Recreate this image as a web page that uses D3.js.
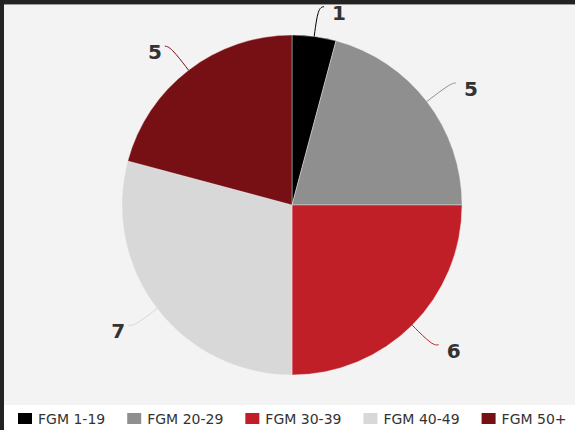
<!DOCTYPE html>
<html>
<head>
<meta charset="utf-8">
<script src="https://cdn.jsdelivr.net/npm/d3@7"></script>
<style>
  body { margin: 0; background: #fff; }
  svg { display: block; }
</style>
</head>
<body>
<svg id="chart" width="575" height="430"></svg>
<script>
// categorias e valores
const categories = ["FGM 1-19", "FGM 20-29", "FGM 30-39", "FGM 40-49", "FGM 50+"];
const values = [1, 5, 6, 7, 5];
const colors = ["#000000", "#8f8f8f", "#c01f28", "#d8d8d8", "#771015"];

const width = 575;
const height = 430;
const cx = 292, cy = 205, radius = 170;

const svg = d3.select("#chart");

// fundo e moldura
svg.append("rect").attr("width", width).attr("height", 405).attr("fill", "#f3f3f3");
svg.append("rect").attr("y", 405).attr("width", width).attr("height", 25).attr("fill", "#ffffff");
svg.append("rect").attr("width", width).attr("height", 4).attr("fill", "#222222");
svg.append("rect").attr("y", 4).attr("width", width).attr("height", 1).attr("fill", "#9a9a9a");
svg.append("rect").attr("width", 4).attr("height", height).attr("fill", "#222222");

const data = categories.map((c, i) => ({ name: c, value: values[i], color: colors[i] }));

const pie = d3.pie().sort(null).value(d => d.value);
const arcs = pie(data);

const arc = d3.arc().innerRadius(0).outerRadius(radius);

const g = svg.append("g").attr("transform", `translate(${cx},${cy})`);

g.selectAll("path.slice")
  .data(arcs)
  .enter().append("path")
  .attr("class", "slice")
  .attr("d", arc)
  .attr("fill", d => d.data.color)
  .attr("stroke", "#f3f3f3")
  .attr("stroke-width", 0.4);

// linhas de chamada e rotulos
const pt = (a, r) => [Math.sin(a) * r, -Math.cos(a) * r];

arcs.forEach(d => {
  const mid = (d.startAngle + d.endAngle) / 2;
  const p0 = pt(mid, radius);
  const p1 = pt(mid, 199);
  const right = Math.sin(mid) >= 0;
  const p2 = [p1[0] + (right ? 6 : -6), p1[1] - 1];

  g.append("path")
    .attr("d", d3.line().curve(d3.curveBasis)([p0, p1, p2]))
    .attr("fill", "none")
    .attr("stroke", d.data.color)
    .attr("stroke-width", 1);

  g.append("text")
    .attr("x", p2[0] + (right ? 8 : -3))
    .attr("y", p2[1] + 6)
    .attr("dy", "0.35em")
    .attr("text-anchor", right ? "start" : "end")
    .attr("font-family", "DejaVu Sans, Verdana, sans-serif")
    .attr("font-weight", "bold")
    .attr("font-size", 20)
    .attr("fill", "#333333")
    .text(d.data.value);
});

// legenda
let lx = 18;
data.forEach(d => {
  const item = svg.append("g");
  item.append("rect")
    .attr("x", lx).attr("y", 413)
    .attr("width", 14).attr("height", 11)
    .attr("fill", d.color);
  const t = item.append("text")
    .attr("x", lx + 20).attr("y", 424)
    .attr("font-family", "DejaVu Sans, Verdana, sans-serif")
    .attr("font-size", 14)
    .attr("fill", "#333333")
    .text(d.name);
  lx += 20 + t.node().getComputedTextLength() + 22;
});
</script>
</body>
</html>
